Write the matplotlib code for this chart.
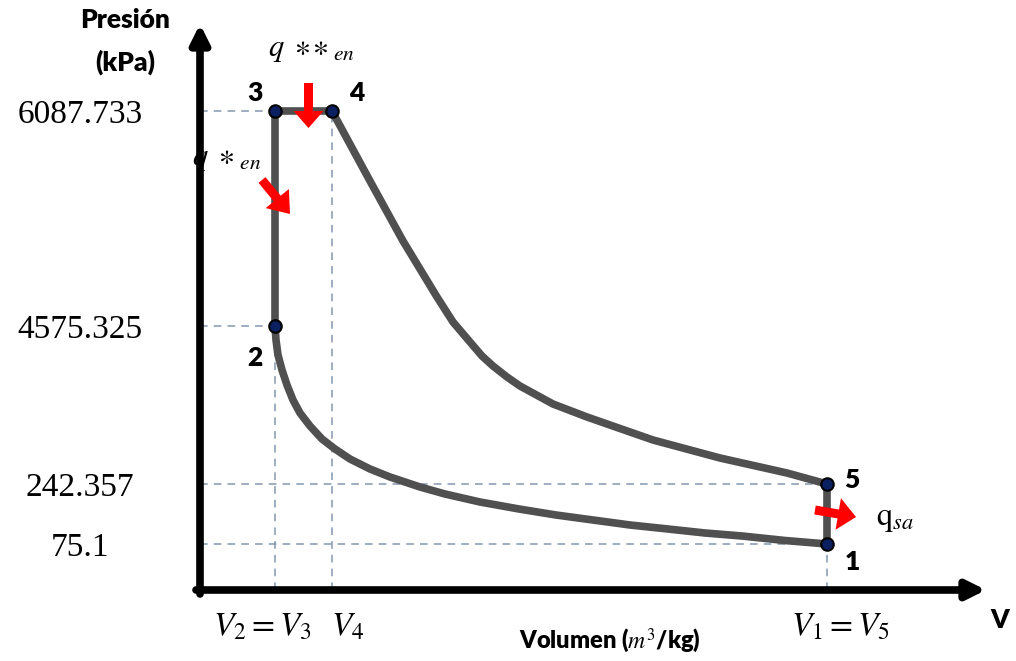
import numpy as np
import matplotlib
matplotlib.use("Agg")
import matplotlib.pyplot as plt
from matplotlib.patches import FancyArrow

plt.rcParams["mathtext.fontset"] = "stix"

# schematic coordinates: 1 unit = 100 px, origin at the axes corner
v_state = [6.27, 0.75, 0.75, 1.32, 6.27]      # states 1..5
p_state = [0.46, 2.64, 4.79, 4.79, 1.06]
state_names = ["1", "2", "3", "4", "5"]

# compression 2 -> 1
v_comp = [0.75, 0.76, 0.78, 0.82, 0.87, 0.93, 1.00, 1.10, 1.22, 1.35, 1.50,
          1.70, 1.90, 2.20, 2.45, 2.80, 3.19, 3.56, 3.93, 4.30, 4.68, 5.05,
          5.42, 5.85, 6.27]
p_comp = [2.64, 2.50, 2.35, 2.20, 2.05, 1.90, 1.77, 1.64, 1.51, 1.41, 1.31,
          1.21, 1.13, 1.03, 0.96, 0.88, 0.81, 0.75, 0.70, 0.65, 0.61, 0.57,
          0.54, 0.495, 0.46]

# expansion 4 -> 5
v_exp = [1.32, 1.70, 2.03, 2.37, 2.53, 2.70, 2.82, 2.93, 3.07, 3.20, 3.53,
         3.87, 4.53, 5.20, 5.87, 6.27]
p_exp = [4.79, 4.09, 3.49, 2.93, 2.68, 2.48, 2.34, 2.24, 2.13, 2.04, 1.86,
         1.73, 1.50, 1.32, 1.17, 1.06]

p_labels = ["6087.733", "4575.325", "242.357", "75.1"]
p_label_pos = [4.79, 2.64, 1.06, 0.46]
v_labels = [r"$V_2 = V_3$", r"$V_4$", r"$V_1 = V_5$"]
v_label_pos = [0.62, 1.48, 6.40]

sans = ["Lato", "DejaVu Sans"]
serif = ["Liberation Serif", "DejaVu Serif"]

fig = plt.figure(figsize=(10.16, 6.61), dpi=100)
ax = fig.add_axes([0, 0, 1, 1])
ax.set_xlim(-2.0, 8.16)
ax.set_ylim(-0.71, 5.90)
ax.axis("off")

cyc = "#505050"
dash = "#8497b0"
dstyle = dict(ls=(0, (5, 4)), lw=1.1, color=dash, zorder=1)

# guide lines
for i in [2, 1, 4, 0]:
    ax.plot([0, v_state[i]], [p_state[i]] * 2, **dstyle)
for i in [1, 3, 0]:
    ax.plot([v_state[i]] * 2, [0, p_state[i]], **dstyle)

# cycle
lstyle = dict(color=cyc, lw=5.5, solid_capstyle="round",
              solid_joinstyle="round", zorder=3)
ax.plot(v_comp, p_comp, **lstyle)
ax.plot(v_exp, p_exp, **lstyle)
ax.plot([v_state[1], v_state[2], v_state[3]],
        [p_state[1], p_state[2], p_state[3]], **lstyle)
ax.plot([v_state[4], v_state[0]], [p_state[4], p_state[0]], **lstyle)
ax.plot(v_state, p_state, "o", ms=9, mfc="#0b2060", mec="black", mew=1.5,
        ls="none", zorder=5)

label_off = {"1": (0.25, -0.18), "2": (-0.20, -0.32), "3": (-0.20, 0.18),
             "4": (0.25, 0.18), "5": (0.25, 0.04)}
for name, v, p in zip(state_names, v_state, p_state):
    dx, dy = label_off[name]
    ax.text(v + dx, p + dy, name, family=sans, fontweight="heavy", fontsize=19,
            ha="center", va="center", zorder=6)

# heat arrows
red = "#ff0000"
ax.add_patch(FancyArrow(1.085, 5.07, 0, -0.45, width=0.09, head_width=0.30,
                        head_length=0.17, length_includes_head=True,
                        color=red, lw=0, zorder=4))
ax.add_patch(FancyArrow(0.62, 4.10, 0.28, -0.34, width=0.09, head_width=0.30,
                        head_length=0.20, length_includes_head=True,
                        color=red, lw=0, zorder=4))
ax.add_patch(FancyArrow(6.15, 0.80, 0.41, -0.07, width=0.09, head_width=0.32,
                        head_length=0.18, length_includes_head=True,
                        color=red, lw=0, zorder=6))

ax.text(1.11, 5.40, r"$q\ \ast\!\!\ast_{en}$", fontsize=22, ha="center",
        va="center", zorder=2)
ax.text(0.27, 4.32, r"$q\ \ast_{en}$", fontsize=22, ha="center", va="center",
        zorder=2)
ax.text(6.95, 0.72, r"$\mathrm{q}_{sa}$", fontsize=23, ha="center",
        va="center", zorder=2)

# axes with arrows
head = "-|>,head_length=1.1,head_width=0.55"
ax.annotate("", xy=(0, 5.66), xytext=(0, -0.04),
            arrowprops=dict(arrowstyle=head, lw=5.5, color="black",
                            shrinkA=0, shrinkB=0), zorder=7)
ax.annotate("", xy=(7.86, 0), xytext=(-0.04, 0),
            arrowprops=dict(arrowstyle=head, lw=5.5, color="black",
                            shrinkA=0, shrinkB=0), zorder=7)

for lab, p in zip(p_labels, p_label_pos):
    ax.text(-1.20, p - 0.04, lab, family=serif, fontsize=24, ha="center",
            va="center")
for lab, v in zip(v_labels, v_label_pos):
    ax.text(v, -0.36, lab, fontsize=24, ha="center", va="center")

ax.text(-0.75, 5.70, "Presión", family=sans, fontweight="heavy", fontsize=19,
        ha="center", va="center")
ax.text(-0.75, 5.28, "(kPa)", family=sans, fontweight="heavy", fontsize=19,
        ha="center", va="center")
ax.text(8.00, -0.30, "V", family=sans, fontweight="heavy", fontsize=19,
        ha="center", va="center")
ax.text(4.10, -0.51, r"Volumen ($m^3$/kg)", family=sans, fontweight="heavy",
        fontsize=17, ha="center", va="center")

fig.savefig("out.png", dpi=100)
